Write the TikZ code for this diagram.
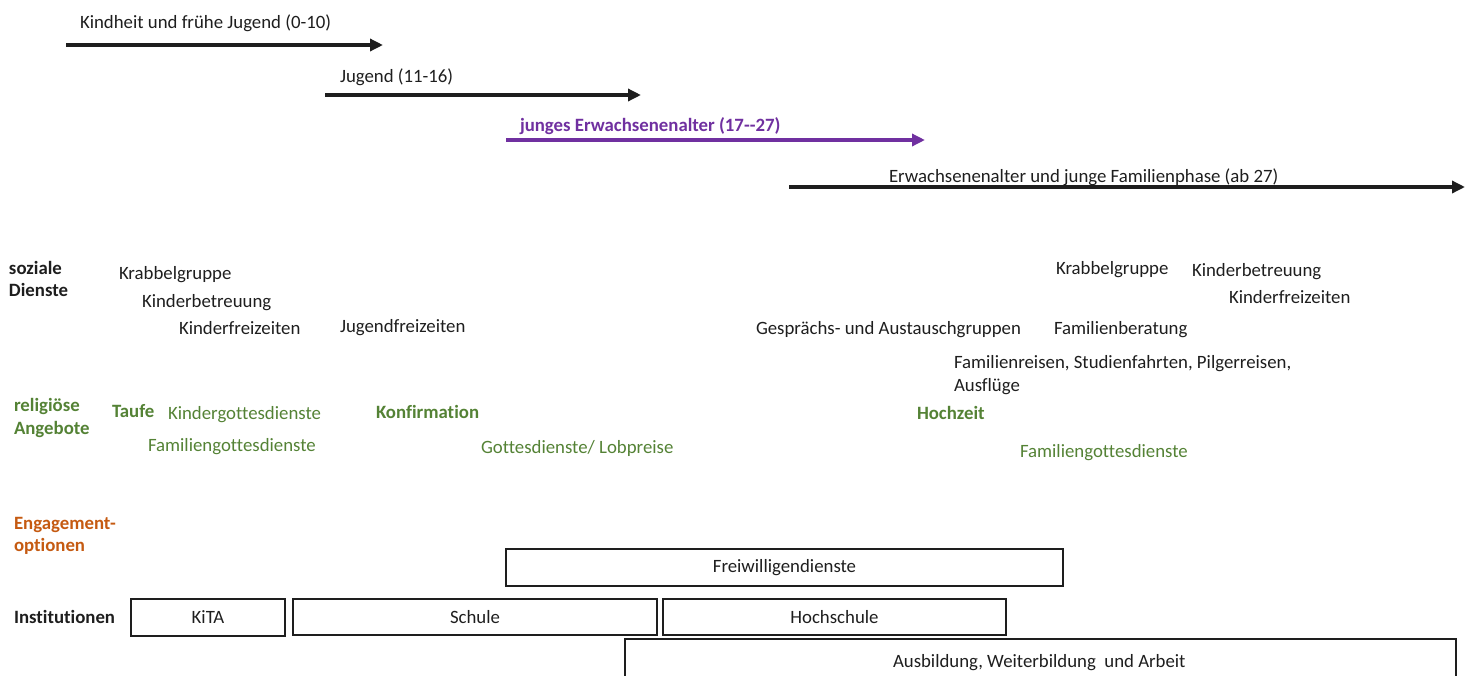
\documentclass[tikz,border=0pt]{standalone}
\usepackage{fontspec}
\setmainfont[Ligatures={TeX,NoCommon}]{Carlito}
\usetikzlibrary{arrows.meta}
\definecolor{lilac}{HTML}{7030A0}
\definecolor{leaf}{HTML}{548235}
\definecolor{rust}{HTML}{C55A11}
\definecolor{ink}{HTML}{1E1E1E}
\begin{document}
\begin{tikzpicture}[x=1pt,y=-1pt,
  every node/.style={inner sep=0pt, outer sep=0pt, text=ink},
  lbl/.style={anchor=base west, font=\fontsize{18.8}{22}\selectfont},
  head/.style={lbl, font=\fontsize{18.8}{22}\selectfont\bfseries},
  grn/.style={lbl, text=leaf},
  grnb/.style={head, text=leaf},
  phase/.style={line width=4pt, draw=ink, -{Triangle[length=13pt,width=12pt]}},
  box/.style={draw=ink, line width=1.2pt, font=\fontsize{18.8}{22}\selectfont, anchor=north west}
]
\useasboundingbox (0,0) rectangle (1475,675);
% phase arrows
\coordinate (a1s) at (66,45);  \coordinate (a1e) at (383,45);
\coordinate (a2s) at (325,95); \coordinate (a2e) at (641,95);
\coordinate (a3s) at (506,140); \coordinate (a3e) at (925,140);
\coordinate (a4s) at (789,187); \coordinate (a4e) at (1465,187);
\draw[phase] (a1s) -- (a1e);
\draw[phase] (a2s) -- (a2e);
\draw[phase, draw=lilac, line width=3.5pt] (a3s) -- (a3e);
\draw[phase] (a4s) -- (a4e);
\node[lbl] (t1) at (80,28) {Kindheit und frühe Jugend (0-10)};
\node[lbl] (t2) at (340,82) {Jugend (11-16)};
\node[head, text=lilac] (t3) at (520,131) {junges Erwachsenenalter (17-{}-27)};
\node[lbl] (t4) at (889,182) {Erwachsenenalter und junge Familienphase (ab 27)};
% soziale Dienste
\node[head] (sd1) at (9,274) {soziale};
\node[head] (sd2) at (9,296) {Dienste};
\node[lbl] (s1) at (119,279) {Krabbelgruppe};
\node[lbl] (s2) at (142,307) {Kinderbetreuung};
\node[lbl] (s3) at (179,334) {Kinderfreizeiten};
\node[lbl] (s4) at (340,332) {Jugendfreizeiten};
\node[lbl] (s5) at (756,334) {Gesprächs- und Austauschgruppen};
\node[lbl] (s6) at (1054,334) {Familienberatung};
\node[lbl] (s7) at (1056,274) {Krabbelgruppe};
\node[lbl] (s8) at (1192,276) {Kinderbetreuung};
\node[lbl] (s9) at (1229,303) {Kinderfreizeiten};
\node[lbl] (s10) at (954,368) {Familienreisen, Studienfahrten, Pilgerreisen,};
\node[lbl] (s11) at (954,391) {Ausflüge};
% religiöse Angebote
\node[grnb] (ra1) at (14,411) {religiöse};
\node[grnb] (ra2) at (14,434) {Angebote};
\node[grnb] (r1) at (112,417) {Taufe};
\node[grn] (r2) at (168,419) {Kindergottesdienste};
\node[grnb] (r3) at (376,418) {Konfirmation};
\node[grn] (r4) at (148,451) {Familiengottesdienste};
\node[grn] (r5) at (481,453) {Gottesdienste/ Lobpreise};
\node[grnb] (r6) at (917,419) {Hochzeit};
\node[grn] (r7) at (1020,457) {Familiengottesdienste};
% Engagement
\node[head, text=rust] (e1) at (14,529) {Engagement-};
\node[head, text=rust] (e2) at (14,551) {optionen};
\node[head] (in) at (14,623) {Institutionen};
% boxes
\node[box, minimum width=557, minimum height=37] (fw) at (506,549) {Freiwilligendienste};
\node[box, minimum width=154, minimum height=37] (kita) at (131,599) {KiTA};
\node[box, minimum width=364, minimum height=36] (schule) at (293,599) {Schule};
\node[box, minimum width=343, minimum height=36] (hs) at (663,599) {Hochschule};
\node[box, minimum width=831, minimum height=45, anchor=north west] (ab) at (625,639) {};
\node[lbl] (abt) at (893,667) {Ausbildung, Weiterbildung\ \ und Arbeit};
\end{tikzpicture}
\end{document}
